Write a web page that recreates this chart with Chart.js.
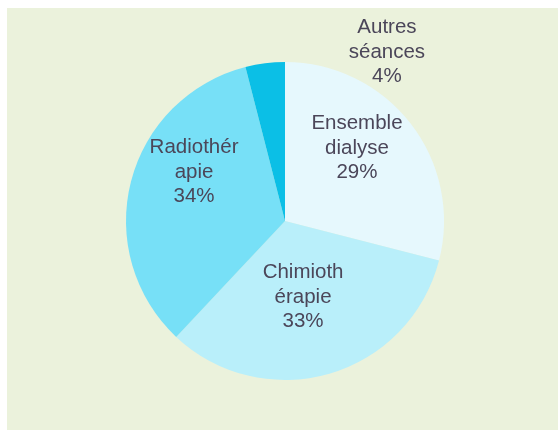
<!DOCTYPE html>
<html>
<head>
<meta charset="utf-8">
<script src="https://cdn.jsdelivr.net/npm/chart.js@4/dist/chart.umd.min.js"></script>
<style>
  html, body { margin: 0; padding: 0; background: #ffffff; }
  #wrap { width: 558px; height: 430px; position: relative; }
</style>
</head>
<body>
<div id="wrap"><canvas id="pie" width="558" height="430"></canvas></div>
<script>
// share of sessions by type (%)
const categories = ['Ensemble dialyse', 'Chimiothérapie', 'Radiothérapie', 'Autres séances']
const shares = [29, 33, 34, 4]
// label text as wrapped on the chart
const labelLines = [['Ensemble', 'dialyse'], ['Chimioth', 'érapie'], ['Radiothér', 'apie'], ['Autres', 'séances']]

const sliceColors = ['#e6f8fd', '#b9effa', '#77e0f7', '#0bbfe6']
// where each label sits: angle shift from the slice middle (deg), distance as a fraction of the radius
const labelPlace = [[-8.4, 0.654], [2.5, 0.48], [14.9, 0.656], [38, 1.252]]

const panelBg = {
    id: 'panelBg',
    beforeDraw(chart) {
        const ctx = chart.ctx
        ctx.save()
        ctx.fillStyle = '#ebf2dc'
        ctx.fillRect(7, 8, chart.width - 7, chart.height - 8)
        ctx.restore()
    }
}

const sliceLabels = {
    id: 'sliceLabels',
    afterDatasetsDraw(chart) {
        const ctx = chart.ctx
        const arcs = chart.getDatasetMeta(0).data
        ctx.save()
        ctx.font = '20.5px "Liberation Sans", Arial, sans-serif'
        ctx.fillStyle = '#4b4659'
        ctx.textAlign = 'center'
        ctx.textBaseline = 'middle'
        arcs.forEach(function (arc, i) {
            const p = arc.getProps(['x', 'y', 'startAngle', 'endAngle', 'outerRadius'], true)
            const [da, frac] = labelPlace[i]
            const a = (p.startAngle + p.endAngle) / 2 + da * Math.PI / 180
            const cx = p.x + Math.cos(a) * p.outerRadius * frac
            const cy = p.y + Math.sin(a) * p.outerRadius * frac + 2
            const lines = labelLines[i].concat([shares[i] + '%'])
            const lh = 24.5
            lines.forEach(function (t, k) {
                ctx.fillText(t, cx, cy + (k - (lines.length - 1) / 2) * lh)
            })
        })
        ctx.restore()
    }
}

new Chart(document.getElementById('pie'), {
    type: 'pie',
    data: {
        labels: categories,
        datasets: [{
            data: shares,
            backgroundColor: sliceColors,
            borderWidth: 0
        }]
    },
    options: {
        responsive: false,
        animation: false,
        layout: { padding: { left: 126, right: 114, top: 62, bottom: 50 } },
        plugins: {
            legend: { display: false },
            tooltip: { enabled: false }
        }
    },
    plugins: [panelBg, sliceLabels]
})
</script>
</body>
</html>
